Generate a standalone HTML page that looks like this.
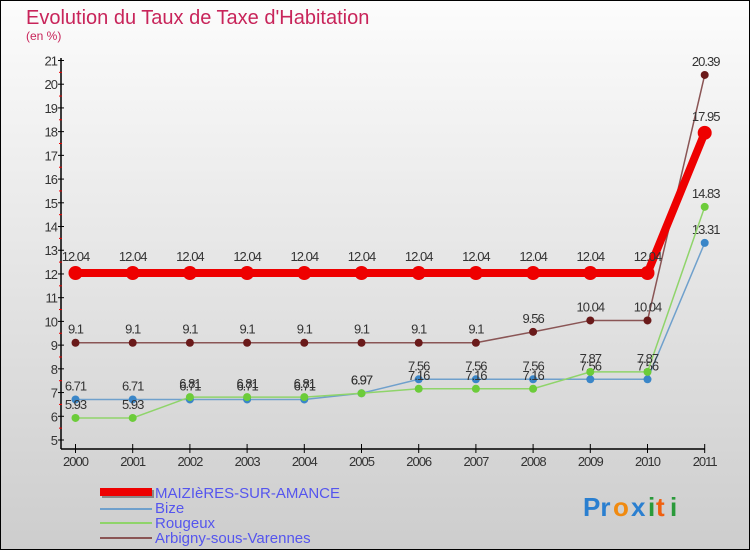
<!DOCTYPE html>
<html><head><meta charset="utf-8"><style>
body{margin:0;width:750px;height:550px;overflow:hidden}
svg{display:block;font-family:"Liberation Sans",sans-serif}
</style></head><body>
<svg width="750" height="550">
<defs><linearGradient id="bg" x1="0" y1="0" x2="0" y2="1"><stop offset="0" stop-color="#fcfcfc"/><stop offset="1" stop-color="#cdcdcd"/></linearGradient></defs>
<rect x="0.5" y="0.5" width="749" height="549" fill="url(#bg)" stroke="#000"/>
<text x="26" y="24" font-size="20" fill="#c8245a">Evolution du Taux de Taxe d'Habitation</text>
<text x="26" y="40" font-size="12" fill="#c8245a">(en %)</text>
<g id="axes"></g>
<g id="series"></g>
<g id="legend">
<rect x="102" y="490" width="52" height="8" fill="#888"/>
<rect x="100" y="488" width="52" height="8" fill="#e00"/>
<text x="155" y="498" font-size="15" fill="#5555ee">MAIZIèRES-SUR-AMANCE</text>
<rect x="100" y="508" width="52" height="2" fill="#6fa0cc"/>
<text x="155" y="513" font-size="15" fill="#5555ee">Bize</text>
<rect x="100" y="522" width="52" height="2" fill="#8fd46a"/>
<text x="155" y="528" font-size="15" fill="#5555ee">Rougeux</text>
<rect x="100" y="537" width="52" height="2" fill="#8a5555"/>
<text x="155" y="543" font-size="15" fill="#5555ee">Arbigny-sous-Varennes</text>
</g>
<g font-size="26" font-weight="bold">
<text x="583" y="516" fill="#2a7fd0">Pr</text><text x="613" y="516" fill="#f08a10">o</text><text x="631" y="516" fill="#2a7fd0">x</text><text x="648" y="516" fill="#2a9a3a">i</text><text x="656" y="516" fill="#f06010">t</text><text x="670" y="516" fill="#2a9a3a">i</text>
</g>
</svg>
<script>
const years=[2000,2001,2002,2003,2004,2005,2006,2007,2008,2009,2010,2011];
const maizieres=[12.04,12.04,12.04,12.04,12.04,12.04,12.04,12.04,12.04,12.04,12.04,17.95];
const bize=[6.71,6.71,6.71,6.71,6.71,6.97,7.56,7.56,7.56,7.56,7.56,13.31];
const rougeux=[5.93,5.93,6.81,6.81,6.81,6.97,7.16,7.16,7.16,7.87,7.87,14.83];
const arbigny=[9.1,9.1,9.1,9.1,9.1,9.1,9.1,9.1,9.56,10.04,10.04,20.39];
const yTicks=[5,6,7,8,9,10,11,12,13,14,15,16,17,18,19,20,21];
const NS="http://www.w3.org/2000/svg";
const x=i=>75.5+i*57.2;
const y=v=>440-(v-5)*23.72;
function mk(t,a,p){const e=document.createElementNS(NS,t);for(const k in a)e.setAttribute(k,a[k]);p.appendChild(e);return e;}
const ax=document.getElementById('axes');
const yl=mk('line',{x1:61,y1:58,x2:61,y2:449,stroke:'#000','stroke-width':1.5},ax);


const xl=mk('line',{x1:61,y1:449,x2:x(11),y2:449,stroke:'#000','stroke-width':1.5},ax);


yTicks.forEach(v=>{
  mk('line',{x1:58,y1:y(v),x2:64,y2:y(v),stroke:'#000'},ax);
  if(v<21)mk('line',{x1:59,y1:y(v+0.5),x2:62,y2:y(v+0.5),stroke:'#e00'},ax);
  const t=mk('text',{x:57,y:y(v)+5,'font-size':13,fill:'#333','text-anchor':'end','letter-spacing':'-1'},ax);
  t.textContent=v;
  
  
});
years.forEach((yr,i)=>{
  mk('line',{x1:x(i),y1:444,x2:x(i),y2:453,stroke:'#000'},ax);
  const t=mk('text',{x:x(i),y:466,'font-size':13,fill:'#333','text-anchor':'middle','letter-spacing':'-1'},ax);
  t.textContent=yr;
  
  
});
const sg=document.getElementById('series');
function series(vals,name,line,dot,w,r){
  const g=mk('g',{},sg);
  
  
  const pl=mk('polyline',{points:vals.map((v,i)=>x(i)+','+y(v)).join(' '),fill:'none',stroke:line,'stroke-width':w},g);
  
  
  vals.forEach((v,i)=>{
    const c=mk('circle',{cx:x(i),cy:y(v),r:r,fill:dot},g);
    
    
    const t=mk('text',{x:x(i)+(i==11?1:0),y:y(v)-r-5,'font-size':13,fill:'#333','text-anchor':'middle','letter-spacing':'-1'},g);
    t.textContent=String(v);
    
    
  });
}
series(bize,'bize','#6fa0cc','#3a86c8',1.5,4);
series(rougeux,'rougeux','#8fd46a','#6ccc3a',1.5,4);
series(arbigny,'arbigny','#8a5555','#6a1a1a',1.5,4);
series(maizieres,'maizieres','#ee0000','#ee0000',8,7);
</script>
</body></html>
